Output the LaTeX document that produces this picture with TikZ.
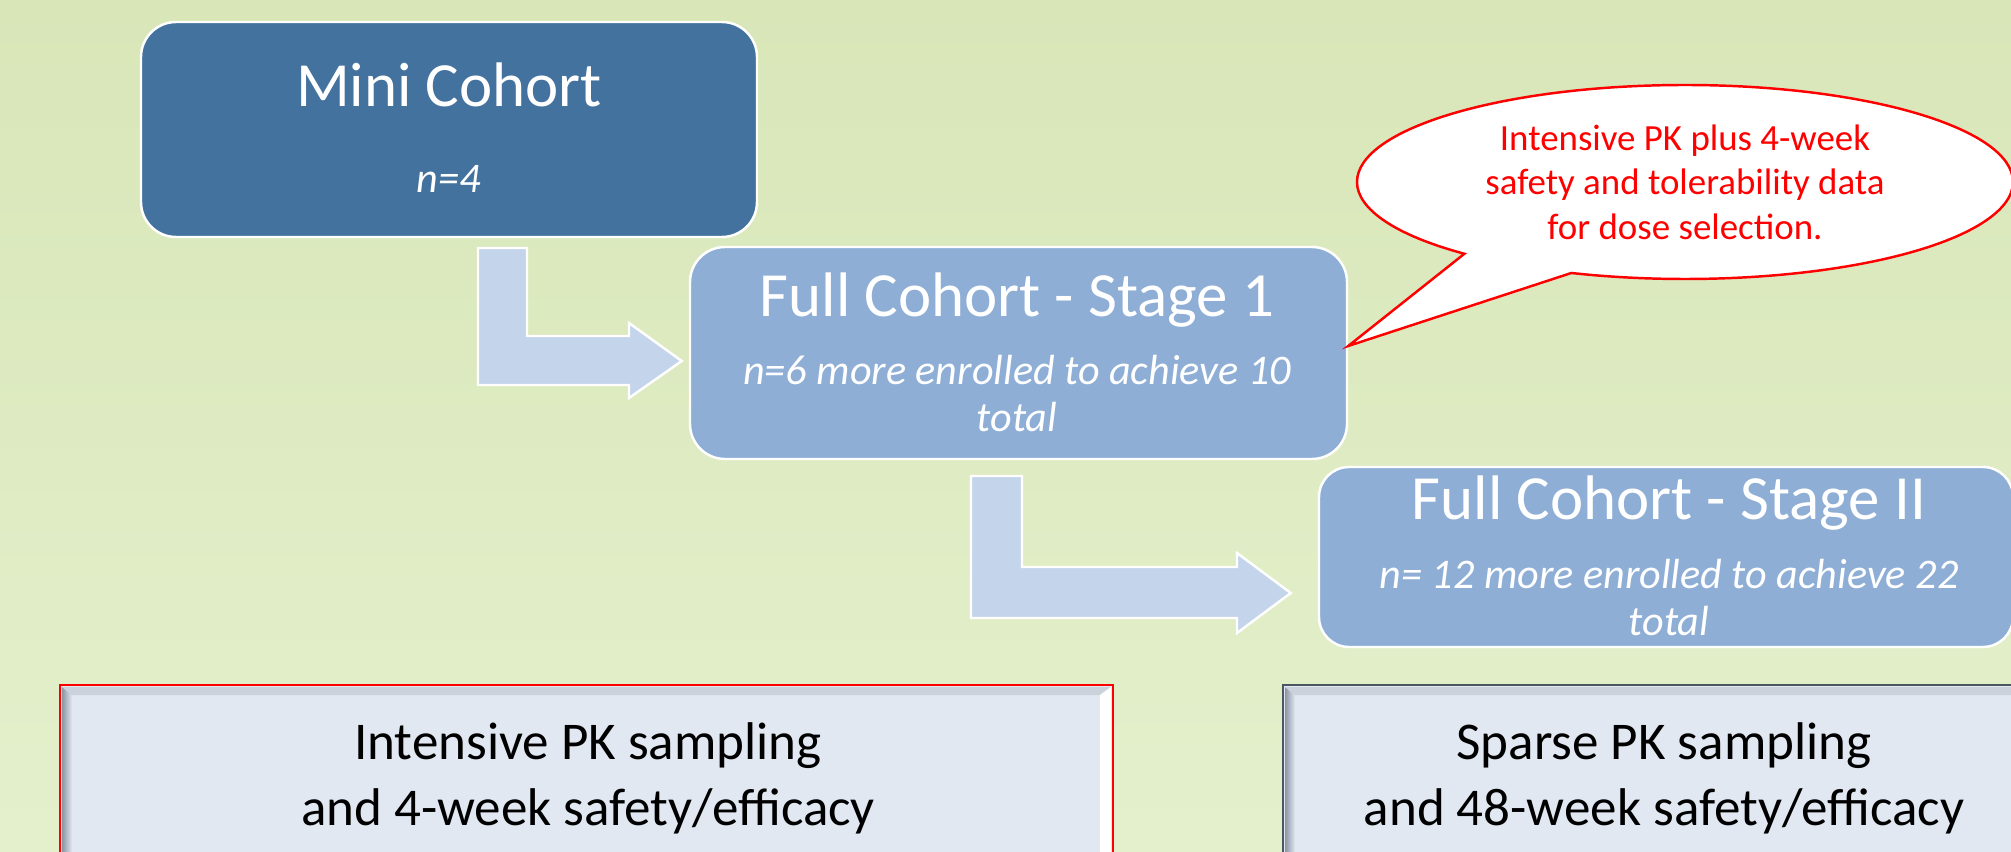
\documentclass[tikz,border=0pt]{standalone}
\usepackage{fontspec}
\setmainfont{Carlito}
\usepackage{xcolor}
\usetikzlibrary{calc,shapes.callouts}
\definecolor{bgtop}{HTML}{D8E6B8}
\definecolor{bgbottom}{HTML}{E4F0CC}
\definecolor{minifill}{HTML}{44729F}
\definecolor{stagefill}{HTML}{8EAED6}
\definecolor{arrowfill}{HTML}{C3D4EB}
\definecolor{panelfill}{HTML}{E1E8F2}
\definecolor{paneledge}{HTML}{4B5663}
\definecolor{bevelshade}{HTML}{8A95A3}
\definecolor{bevellight}{HTML}{CBD2DC}
\tikzset{
    cohort/.style={draw=white, line width=0.7pt, rounded corners=0.35cm, inner sep=0pt}, % rounded boxes
    titletext/.style={text=white, anchor=base, font=\fontsize{17.9}{21}\selectfont},
    subtext/.style={text=white, anchor=base, font=\fontsize{12}{14}\selectfont\itshape},
    bentarrow/.style={fill=arrowfill, draw=white, line width=0.7pt},
    paneltext/.style={anchor=base, font=\fontsize{15.1}{18}\selectfont},
    bubble/.style={ellipse callout, draw=red, line width=0.7pt, fill=white, text=red, align=center,
        inner sep=0pt, font=\fontsize{10.5}{12.66}\selectfont},
}

\begin{document}
\begin{tikzpicture}
    % Sfondo
    \useasboundingbox (0,0) rectangle (20.11,8.51);
    \clip (0,0) rectangle (20.11,8.51);
    \shade[top color=bgtop, bottom color=bgbottom] (0,0) rectangle (20.11,8.51);

    % Mini cohort
    \node[cohort, fill=minifill, minimum width=6.16cm, minimum height=2.15cm] (mini) at (4.49,7.215) {};
    \node[titletext] (mini-title) at (4.49,7.44) {Mini Cohort};
    \node[subtext] (mini-n) at (4.49,6.58) {n=4};

    % Full cohort - stage 1
    \node[cohort, fill=stagefill, minimum width=6.57cm, minimum height=2.12cm] (stage1) at (10.185,4.98) {};
    \node[titletext] (stage1-title) at (10.17,5.34) {Full Cohort - Stage 1};
    \node[subtext] (stage1-n) at (10.17,4.66) {n=6 more enrolled to achieve 10};
    \node[subtext] (stage1-tot) at (10.17,4.19) {total};

    % Full cohort - stage II
    \node[cohort, rounded corners=0.3cm, fill=stagefill, minimum width=6.94cm, minimum height=1.80cm] (stage2) at (16.66,2.94) {};
    \node[titletext] (stage2-title) at (16.69,3.31) {Full Cohort - Stage II};
    \node[subtext] (stage2-n) at (16.69,2.63) {n= 12 more enrolled to achieve 22};
    \node[subtext] (stage2-tot) at (16.69,2.16) {total};

    % Frecce piegate
    \coordinate (arrow1) at (4.78,6.03);
    \draw[bentarrow] (arrow1) -- ++(0.49,0) -- ++(0,-0.88) -- ++(1.02,0) -- ++(0,0.13)
        -- ($(stage1.west)+(-0.07,-0.08)$) -- (6.29,4.53) -- (6.29,4.66) -- (4.78,4.66) -- cycle;
    \coordinate (arrow2) at (9.71,3.75);
    \draw[bentarrow] (arrow2) -- ++(0.51,0) -- ++(0,-0.91) -- ++(2.15,0) -- ++(0,0.14)
        -- ($(stage2.west)+(-0.27,-0.36)$) -- (12.37,2.18) -- (12.37,2.33) -- (9.71,2.33) -- cycle;

    % Nuvoletta
    \node[bubble, minimum width=6.56cm, minimum height=1.94cm, callout pointer arc=22,
        callout absolute pointer={($(stage1.east)+(0,0.07)$)}] (note) at (16.85,6.69)
        {Intensive PK plus 4-week\\safety and tolerability data\\for dose selection.};

    % Pannello sinistro
    \fill[panelfill] (0.60,-0.3) rectangle (11.13,1.66);
    \shade[left color=bevelshade, right color=panelfill] (0.62,-0.3) -- (0.62,1.64) -- (0.72,1.56) -- (0.72,-0.3) -- cycle;
    \fill[bevellight] (0.62,1.64) -- (11.11,1.64) -- (11.00,1.56) -- (0.72,1.56) -- cycle;
    \fill[white] (11.11,1.64) -- (11.11,-0.3) -- (11.00,-0.3) -- (11.00,1.56) -- cycle;
    \draw[red, line width=0.8pt] (0.60,-0.3) rectangle (11.13,1.66);
    \node[paneltext] (left-a) at (5.88,0.91) {Intensive PK sampling};
    \node[paneltext] (left-b) at (5.88,0.26) {and 4-week safety/efficacy};

    % Pannello destro
    \fill[panelfill] (12.83,-0.3) rectangle (20.45,1.66);
    \shade[left color=bevelshade, right color=panelfill] (12.85,-0.3) -- (12.85,1.64) -- (12.95,1.56) -- (12.95,-0.3) -- cycle;
    \fill[bevellight] (12.85,1.64) -- (20.43,1.64) -- (20.32,1.56) -- (12.95,1.56) -- cycle;
    \draw[paneledge, line width=0.8pt] (12.83,-0.3) rectangle (20.45,1.66);
    \node[paneltext] (right-a) at (16.64,0.91) {Sparse PK sampling};
    \node[paneltext] (right-b) at (16.64,0.26) {and 48-week safety/efficacy};
\end{tikzpicture}
\end{document}
